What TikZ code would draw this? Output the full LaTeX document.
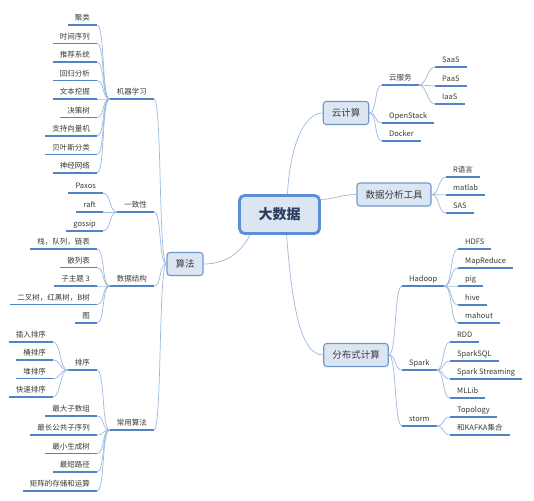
\documentclass[tikz,border=0pt]{standalone}
\usepackage{fontspec}
\setmainfont{Noto Sans CJK SC}
\usetikzlibrary{calc}
\definecolor{linec}{HTML}{9DB9DE}
\definecolor{ulc}{HTML}{5283C4}
\definecolor{boxc}{HTML}{6F97CC}
\definecolor{boxf}{HTML}{DCE6F3}
\definecolor{rootc}{HTML}{5B8ED6}
\definecolor{txt}{HTML}{3A3A3A}
\definecolor{roottxt}{HTML}{2B3E5C}
\newcommand\myLconn[2]{\draw[conn] (#1) .. controls +(-8,0) and +(8,0) .. (#2);}
\newcommand\myRconn[2]{\draw[conn] (#1) .. controls +(8,0) and +(-8,0) .. (#2);}
\begin{document}
\begin{tikzpicture}[x=1pt,y=-1pt,
  conn/.style={draw=linec, line width=0.7pt},
  uline/.style={draw=ulc, line width=1.5pt},
  leaf/.style={font=\fontsize{7.5}{9}\selectfont, text=txt, inner xsep=7pt, inner ysep=2.5pt, text height=6.5pt, text depth=1.5pt},
  topic/.style={draw=boxc, line width=1.1pt, fill=boxf, rounded corners=3pt, font=\fontsize{9.5}{11}\selectfont, text=txt, inner xsep=8.5pt, minimum height=23pt},
  root/.style={draw=rootc, line width=2.8pt, fill=boxf, rounded corners=5pt, font=\fontsize{14}{16}\selectfont\bfseries, text=roottxt, minimum width=80pt, minimum height=38pt}]
\fill[white] (0,0) rectangle (534,500);
\useasboundingbox (0,0) rectangle (534,500);

% main nodes
\node[root] (root) at (279.5,214.5) {大数据};
\node[topic] (suanfa) at (185,264) {算法};
\node[topic] (yjs) at (346,113) {云计算};
\node[topic] (sjfx) at (394,194.5) {数据分析工具};
\node[topic] (fbs) at (356,355) {分布式计算};

% left mid nodes
\node[leaf, anchor=south east] (jqxx) at (154,99) {机器学习};
\node[leaf, anchor=south east] (yzx) at (154,212) {一致性};
\node[leaf, anchor=south east] (sjjg) at (154,286) {数据结构};
\node[leaf, anchor=south east] (cysf) at (154,430) {常用算法};

% machine learning
\node[leaf, anchor=south east] (ml1) at (97,25) {聚类};
\node[leaf, anchor=south east] (ml2) at (97,43.5) {时间序列};
\node[leaf, anchor=south east] (ml3) at (97,62) {推荐系统};
\node[leaf, anchor=south east] (ml4) at (97,80.5) {回归分析};
\node[leaf, anchor=south east] (ml5) at (97,99) {文本挖掘};
\node[leaf, anchor=south east] (ml6) at (97,117.5) {决策树};
\node[leaf, anchor=south east] (ml7) at (97,136) {支持向量机};
\node[leaf, anchor=south east] (ml8) at (97,154.5) {贝叶斯分类};
\node[leaf, anchor=south east] (ml9) at (97,173) {神经网络};

% consistency
\node[leaf, anchor=south east] (yz1) at (103,193) {Paxos};
\node[leaf, anchor=south east] (yz2) at (103,212) {raft};
\node[leaf, anchor=south east] (yz3) at (103,231) {gossip};

% data structures
\node[leaf, anchor=south east] (ds1) at (97,249) {栈，队列，链表};
\node[leaf, anchor=south east] (ds2) at (97,267.5) {散列表};
\node[leaf, anchor=south east] (ds3) at (97,286) {子主题 3};
\node[leaf, anchor=south east] (ds4) at (97,304.5) {二叉树，红黑树，B树};
\node[leaf, anchor=south east] (ds5) at (97,323) {图};

% common algorithms
\node[leaf, anchor=south east] (px) at (97,370) {排序};
\node[leaf, anchor=south east] (px1) at (53,342) {插入排序};
\node[leaf, anchor=south east] (px2) at (53,360) {桶排序};
\node[leaf, anchor=south east] (px3) at (53,378.5) {堆排序};
\node[leaf, anchor=south east] (px4) at (53,397) {快速排序};
\node[leaf, anchor=south east] (ca1) at (97,416) {最大子数组};
\node[leaf, anchor=south east] (ca2) at (97,435) {最长公共子序列};
\node[leaf, anchor=south east] (ca3) at (97,453.5) {最小生成树};
\node[leaf, anchor=south east] (ca4) at (97,472) {最短路径};
\node[leaf, anchor=south east] (ca5) at (97,491) {矩阵的存储和运算};

% cloud
\node[leaf, anchor=south west] (yfw) at (382,85) {云服务};
\node[leaf, anchor=south west] (saas) at (435,67) {SaaS};
\node[leaf, anchor=south west] (paas) at (435,86) {PaaS};
\node[leaf, anchor=south west] (iaas) at (435,104) {IaaS};
\node[leaf, anchor=south west] (ops) at (382,123) {OpenStack};
\node[leaf, anchor=south west] (dock) at (382,141) {Docker};

% analysis tools
\node[leaf, anchor=south west] (rl) at (446,177) {R语言};
\node[leaf, anchor=south west] (mat) at (446,195) {matlab};
\node[leaf, anchor=south west] (sas) at (446,213) {SAS};

% distributed
\node[leaf, anchor=south west] (had) at (402,286) {Hadoop};
\node[leaf, anchor=south west] (spk) at (402,370) {Spark};
\node[leaf, anchor=south west] (stm) at (402,426) {storm};
\node[leaf, anchor=south west] (h1) at (458,249) {HDFS};
\node[leaf, anchor=south west] (h2) at (458,268) {MapReduce};
\node[leaf, anchor=south west] (h3) at (458,286) {pig};
\node[leaf, anchor=south west] (h4) at (458,305) {hive};
\node[leaf, anchor=south west] (h5) at (458,323) {mahout};
\node[leaf, anchor=south west] (s1) at (450,342) {RDD};
\node[leaf, anchor=south west] (s2) at (450,361) {SparkSQL};
\node[leaf, anchor=south west] (s3) at (450,379) {Spark Streaming};
\node[leaf, anchor=south west] (s4) at (450,398) {MLLib};
\node[leaf, anchor=south west] (t1) at (450,417) {Topology};
\node[leaf, anchor=south west] (t2) at (450,435) {和KAFKA集合};

% underlines
\foreach \n in {jqxx,yzx,sjjg,cysf,ml1,ml2,ml3,ml4,ml5,ml6,ml7,ml8,ml9,yz1,yz2,yz3,ds1,ds2,ds3,ds4,ds5,px,px1,px2,px3,px4,ca1,ca2,ca3,ca4,ca5,yfw,saas,paas,iaas,ops,dock,rl,mat,sas,had,spk,stm,h1,h2,h3,h4,h5,s1,s2,s3,s4,t1,t2}
  \draw[uline] (\n.south west) -- (\n.south east);

% root connectors
\draw[conn] ($(root.north)+(8,0)$) .. controls +(2,-44) and +(-20,0) .. (yjs.west);
\draw[conn] (root.20) .. controls +(12,0) and +(-15,0) .. (sjfx.west);
\draw[conn] ($(root.south west)+(12,0)$) .. controls +(-8,15) and +(25,0) .. (suanfa.east);
\draw[conn] ($(root.south)+(7,0)$) .. controls +(5,60) and +(-25,0) .. (fbs.west);

% left connectors
\foreach \c in {jqxx,yzx,sjjg,cysf} {\myLconn{suanfa.west}{\c.south east}}
\foreach \c in {ml1,ml2,ml3,ml4,ml5,ml6,ml7,ml8,ml9} {\myLconn{jqxx.south west}{\c.south east}}
\foreach \c in {yz1,yz2,yz3} {\myLconn{yzx.south west}{\c.south east}}
\foreach \c in {ds1,ds2,ds3,ds4,ds5} {\myLconn{sjjg.south west}{\c.south east}}
\foreach \c in {px,ca1,ca2,ca3,ca4,ca5} {\myLconn{cysf.south west}{\c.south east}}
\foreach \c in {px1,px2,px3,px4} {\myLconn{px.south west}{\c.south east}}

% right connectors
\foreach \c in {yfw,ops,dock} {\myRconn{yjs.east}{\c.south west}}
\foreach \c in {saas,paas,iaas} {\myRconn{yfw.south east}{\c.south west}}
\foreach \c in {rl,mat,sas} {\myRconn{sjfx.east}{\c.south west}}
\foreach \c in {had,spk,stm} {\myRconn{fbs.east}{\c.south west}}
\foreach \c in {h1,h2,h3,h4,h5} {\myRconn{had.south east}{\c.south west}}
\foreach \c in {s1,s2,s3,s4} {\myRconn{spk.south east}{\c.south west}}
\foreach \c in {t1,t2} {\myRconn{stm.south east}{\c.south west}}
\end{tikzpicture}
\end{document}
